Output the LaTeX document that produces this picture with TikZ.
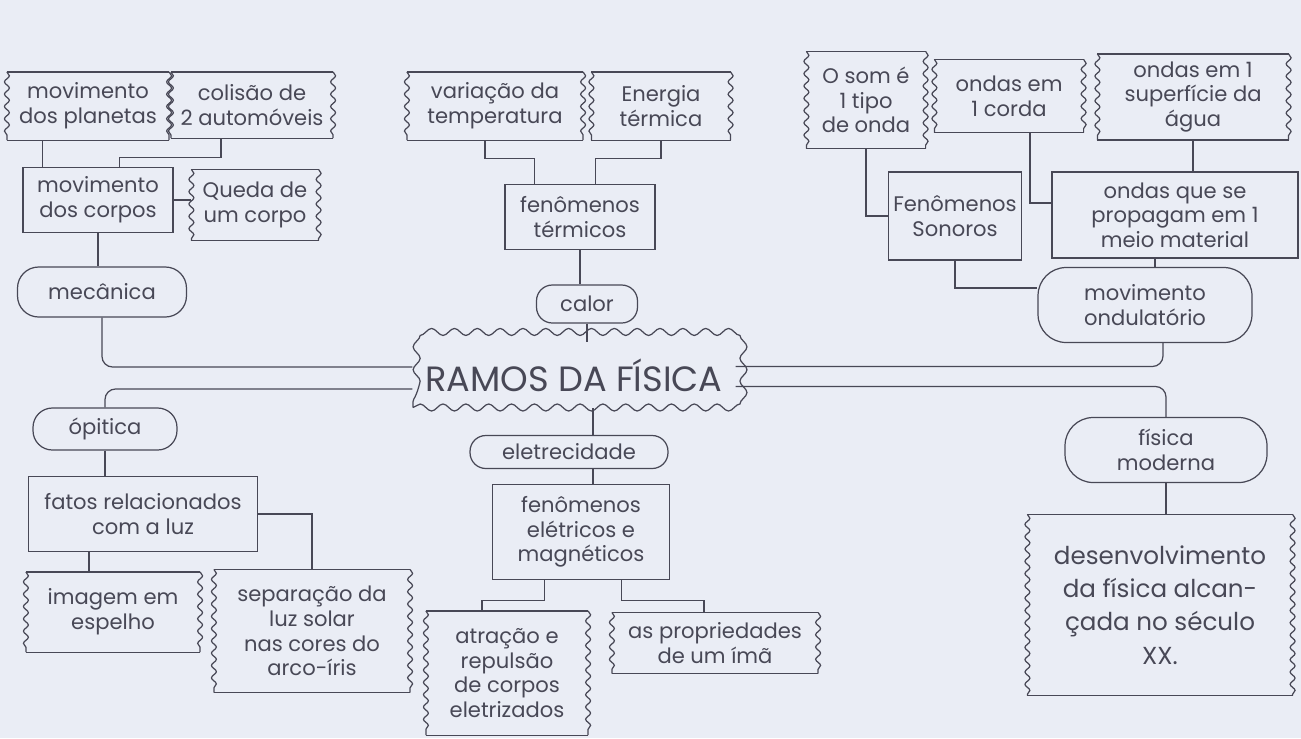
\documentclass[tikz,border=0pt]{standalone}
\usepackage{fontspec}
\setmainfont{Poppins}
\definecolor{ink1}{RGB}{72, 72, 86}
\definecolor{paper1}{RGB}{234, 237, 245}
\usetikzlibrary{positioning, decorations.pathmorphing}

\tikzset{
  wavyside/.style={decorate, decoration={snake, amplitude=1.4pt, segment length=7pt}},
  plainbox/.style={draw, rectangle},
  wavybox/.style={rectangle,
    append after command={
      (\tikzlastnode.north west) edge (\tikzlastnode.north east)
      (\tikzlastnode.south west) edge (\tikzlastnode.south east)
      (\tikzlastnode.north west) edge[wavyside] (\tikzlastnode.south west)
      (\tikzlastnode.north east) edge[wavyside] (\tikzlastnode.south east)
    }},
  pillbox/.style={draw, rounded corners=9pt},
  mainbox/.style={draw, decorate, decoration={snake, amplitude=2pt, segment length=13pt},
    font=\fontsize{20}{24}\selectfont},
  link/.style={rounded corners=6pt}
}

\begin{document}
\begin{tikzpicture}[x=0.02cm, y=-0.02cm, color=ink1, line width=0.7pt,
  every node/.style={font=\fontsize{12}{14}\selectfont, align=center, inner sep=2pt}]
  \fill[paper1] (0,0) rectangle (1301,738);

  % centre
  \node[mainbox, minimum width=6.44cm, minimum height=1.3cm] (ramos) at (574,375) {RAMOS DA FÍSICA};

  % mecanica
  \node[wavybox, minimum width=3.22cm, minimum height=1.34cm] (planetas) at (88,106) {movimento\\dos planetas};
  \node[wavybox, minimum width=3.22cm, minimum height=1.3cm] (colisao) at (252,105) {colisão de\\2 automóveis};
  \node[plainbox, minimum width=3cm, minimum height=1.3cm] (movcorpos) at (98,200) {movimento\\dos corpos};
  \node[wavybox, minimum width=2.52cm, minimum height=1.4cm] (queda) at (255,205) {Queda de\\um corpo};
  \node[pillbox, minimum width=3.38cm, minimum height=1cm, rounded corners=12pt] (mecanica) at (102,292) {mecânica};

  % calor
  \node[wavybox, minimum width=3.5cm, minimum height=1.34cm] (variacao) at (495,106) {variação da\\temperatura};
  \node[wavybox, minimum width=2.76cm, minimum height=1.34cm] (energia) at (661,106) {Energia\\térmica};
  \node[plainbox, minimum width=3cm, minimum height=1.3cm] (femterm) at (580,217) {fenômenos\\térmicos};
  \node[pillbox, minimum width=2.02cm, minimum height=0.76cm] (calor) at (587,304) {calor};

  % movimento ondulatorio
  \node[wavybox, minimum width=2.36cm, minimum height=1.92cm] (som) at (866,100) {O som é\\1 tipo\\de onda};
  \node[wavybox, minimum width=2.96cm, minimum height=1.44cm] (corda) at (1009,96) {ondas em\\1 corda};
  \node[wavybox, minimum width=3.8cm, minimum height=1.7cm] (superficie) at (1193,97) {ondas em 1\\superfície da\\água};
  \node[plainbox, minimum width=2.66cm, minimum height=1.76cm] (sonoros) at (955,216) {Fenômenos\\Sonoros};
  \node[plainbox, minimum width=4.92cm, minimum height=1.72cm] (propagam) at (1175,215) {ondas que se\\propagam em 1\\meio material};
  \node[pillbox, minimum width=4.28cm, minimum height=1.5cm, rounded corners=16pt] (ondulatorio) at (1145,305) {movimento\\ondulatório};

  % optica
  \node[pillbox, minimum width=2.88cm, minimum height=0.84cm, rounded corners=11pt] (optica) at (105,429) {ópitica};
  \node[plainbox, minimum width=4.58cm, minimum height=1.5cm] (fatos) at (143,514) {fatos relacionados\\com a luz};
  \node[wavybox, minimum width=3.46cm, minimum height=1.58cm] (imagem) at (113,612) {imagem em\\espelho};
  \node[wavybox, minimum width=3.9cm, minimum height=2.44cm] (separacao) at (312,631) {separação da\\luz solar\\nas cores do\\arco-íris};

  % eletrecidade
  \node[pillbox, minimum width=3.96cm, minimum height=0.66cm] (eletr) at (569,452) {eletrecidade};
  \node[plainbox, minimum width=3.54cm, minimum height=1.9cm] (femel) at (581,532) {fenômenos\\elétricos e\\magnéticos};
  \node[wavybox, minimum width=3.22cm, minimum height=2.46cm] (atracao) at (507,673) {atração e\\repulsão\\de corpos\\eletrizados};
  \node[wavybox, minimum width=4.1cm, minimum height=1.2cm] (propriedades) at (715,643) {as propriedades\\de um ímã};

  % fisica moderna
  \node[pillbox, minimum width=4.04cm, minimum height=1.3cm, rounded corners=16pt] (moderna) at (1166,450) {física\\moderna};
  \node[wavybox, minimum width=5.28cm, minimum height=3.6cm, font=\fontsize{14}{19}\selectfont] (desenv) at (1160,605) {desenvolvimento\\da física alcan-\\çada no século\\XX.};

  % links
  \draw ([xshift=.4cm]movcorpos.north west) -- ([xshift=.4cm]movcorpos.north west |- planetas.south);
  \draw ([xshift=1cm]colisao.south west) -- ++(0,19) -| ([xshift=1.94cm]movcorpos.north west);
  \draw (movcorpos.east) -- (movcorpos.east -| queda.west);
  \draw (movcorpos.south) -- (movcorpos.south |- mecanica.north);
  \draw[link] (mecanica.south) |- ([yshift=.16cm]ramos.west);

  \draw ([xshift=-.2cm]variacao.south) -- ++(0,18) -| ([xshift=.6cm]femterm.north west);
  \draw (energia.south) -- ++(0,18) -| ([xshift=-1.2cm]femterm.north east);
  \draw (femterm.south) -- (femterm.south |- calor.north);
  \draw (calor.south) -- (calor.south |- ramos.north);

  \draw (som.south) |- (sonoros.west);
  \draw ([xshift=.42cm]corda.south) |- ([yshift=.24cm]propagam.west);
  \draw (superficie.south) -- (superficie.south |- propagam.north);
  \draw (sonoros.south) |- ([yshift=.34cm]ondulatorio.west);
  \draw ([xshift=-.4cm]propagam.south) -- ([xshift=-.4cm]propagam.south |- ondulatorio.north);
  \draw[link] ([xshift=.36cm]ondulatorio.south) |- ([yshift=.17cm]ramos.east);

  \draw[link] ([yshift=-.28cm]ramos.west) -| (optica.north);
  \draw (optica.south) -- (optica.south |- fatos.north);
  \draw ([xshift=1.22cm]fatos.south west) -- ([xshift=1.22cm]fatos.south west |- imagem.north);
  \draw (fatos.east) -| (separacao.north);

  \draw ([xshift=.38cm]ramos.south) -- ([xshift=.38cm]ramos.south |- eletr.north);
  \draw ([xshift=.48cm]eletr.south) -- ([xshift=.48cm]eletr.south |- femel.north);
  \draw ([xshift=-.73cm]femel.south) -- ++(0,20) -| ([xshift=1.12cm]atracao.north west);
  \draw ([xshift=.81cm]femel.south) -- ++(0,20) -| ([xshift=1.84cm]propriedades.north west);

  \draw[link] ([yshift=-.23cm]ramos.east) -| (moderna.north);
  \draw (moderna.south) -- (moderna.south |- desenv.north);
\end{tikzpicture}
\end{document}
